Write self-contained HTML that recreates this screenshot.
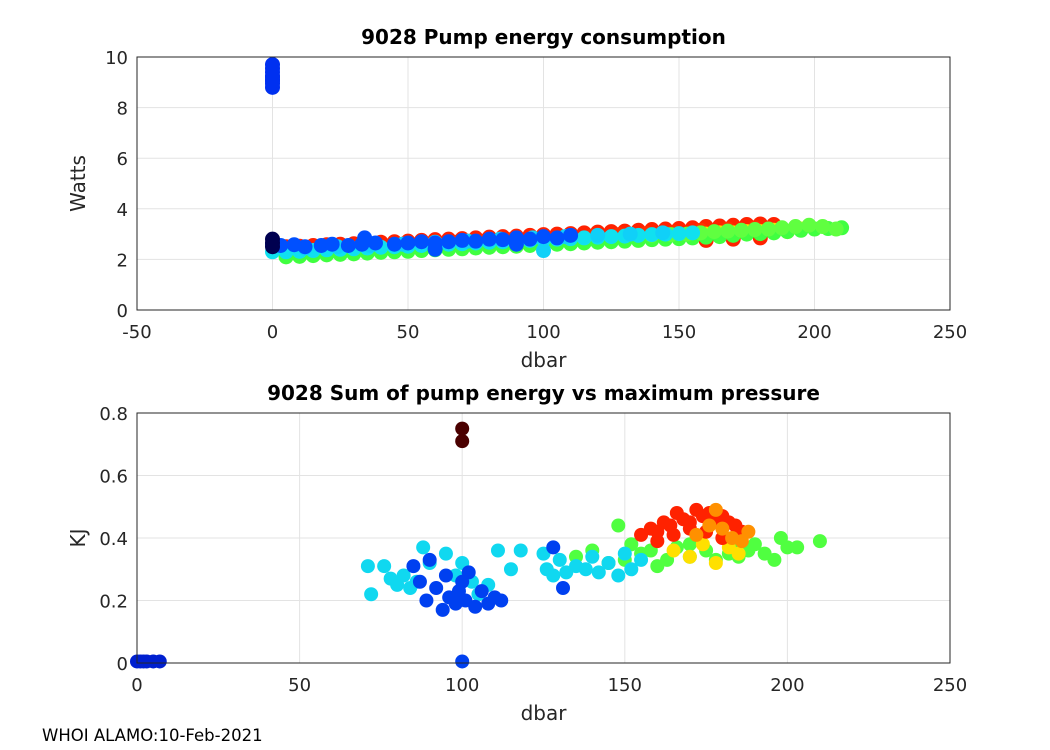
<!DOCTYPE html>
<html><head><meta charset="utf-8">
<style>
body{margin:0;background:#fff;}
svg{display:block;font-family:"DejaVu Sans","Liberation Sans",sans-serif;}
</style></head>
<body>
<svg id="chart" width="1050" height="750">
<rect width="1050" height="750" fill="#fff"/>
<g id="top"></g>
<g id="bot"></g>
<text x="42" y="741" font-size="16.5" fill="#000">WHOI ALAMO:10-Feb-2021</text>
</svg>
<script>
// ---------- Top plot data ----------
const topXTicks = [-50,0,50,100,150,200,250];
const topYTicks = [0,2,4,6,8,10];
const redX = [5,10,15,20,25,30,35,40,45,50,55,60,65,70,75,80,85,90,95,100,105,110,115,120,125,130,135,140,145,150,155,160,165,170,175,180,185,160,170,180];
const redY = [2.5,2.52,2.55,2.58,2.6,2.62,2.65,2.68,2.7,2.72,2.75,2.78,2.8,2.82,2.85,2.88,2.9,2.92,2.95,2.98,3.0,3.02,3.05,3.08,3.1,3.12,3.15,3.18,3.2,3.22,3.25,3.3,3.32,3.35,3.38,3.4,3.38,2.75,2.8,2.85];
const red2X = [8,18,28,38,48,58,68,78,88,98,108,118,128,138,148,158,168,178,183];
const red2Y = [2.4,2.45,2.5,2.55,2.6,2.62,2.68,2.72,2.78,2.82,2.88,2.92,2.98,3.02,3.08,3.15,3.2,3.25,3.2];
const yellowX = [120,125,130,135,140,145,150,155,160,165,170,175,180,185,190,195];
const yellowY = [2.85,2.88,2.9,2.92,2.95,2.98,2.9,2.95,3.0,3.05,3.05,3.1,3.1,3.15,3.1,3.2];
const greenX = [5,10,15,20,25,30,35,40,45,50,55,60,65,70,75,80,85,90,95,100,105,110,115,120,125,130,135,140,145,150,155,160,165,170,175,180,185,190,195,200,205,210];
const greenY = [2.1,2.12,2.15,2.18,2.2,2.22,2.25,2.28,2.3,2.32,2.35,2.38,2.4,2.42,2.45,2.48,2.5,2.52,2.55,2.58,2.6,2.62,2.65,2.68,2.7,2.72,2.75,2.78,2.8,2.82,2.85,2.88,2.9,2.95,3.0,3.02,3.05,3.1,3.15,3.2,3.22,3.25];
const green2X = [140,147,153,158,163,168,173,178,183,188,193,198,203,208];
const green2Y = [2.95,2.98,3.0,3.05,3.1,3.12,3.15,3.18,3.2,3.25,3.3,3.35,3.3,3.2];
const cyanX = [0,5,10,15,20,25,30,35,40,45,50,55,60,65,70,75,80,85,90,95,100,105,110,115,120,125,130,135,140,145,150,155];
const cyanY = [2.3,2.3,2.32,2.35,2.38,2.4,2.42,2.45,2.48,2.5,2.52,2.55,2.58,2.6,2.62,2.65,2.68,2.7,2.72,2.75,2.78,2.8,2.82,2.85,2.88,2.9,2.92,2.95,2.98,3.0,3.02,3.05];
const cyan2X = [12,24,36,48,60,72,84,96,100,108,120,132,144];
const cyan2Y = [2.45,2.5,2.55,2.6,2.68,2.72,2.8,2.85,2.35,2.9,2.95,3.0,3.05];
const blueX = [0,3,8,12,18,22,28,33,38,45,50,55,60,65,70,75,80,85,90,95,100,105,110,34,60,90];
const blueY = [2.6,2.55,2.58,2.5,2.55,2.6,2.55,2.6,2.65,2.6,2.65,2.7,2.65,2.7,2.75,2.72,2.8,2.78,2.85,2.8,2.9,2.85,2.95,2.85,2.4,2.6];
const hiX = [0,0,0,0,0,0,0,0,0];
const hiY = [8.8,8.95,9.1,9.25,9.4,9.55,9.7,9.05,9.2];
const navyX = [0,0,0];
const navyY = [2.5,2.65,2.8];

// ---------- Bottom plot data ----------
const botXTicks = [0,50,100,150,200,250];
const botYTicks = [0,0.2,0.4,0.6,0.8];
const bRedX = [155,158,160,162,164,166,168,170,172,174,176,178,180,182,184,186,160,165,170,175,180];
const bRedY = [0.41,0.43,0.42,0.45,0.44,0.48,0.46,0.45,0.49,0.47,0.48,0.46,0.47,0.45,0.44,0.42,0.39,0.41,0.43,0.42,0.40];
const bOrangeX = [172,176,178,180,183,186,188];
const bOrangeY = [0.41,0.44,0.49,0.43,0.40,0.39,0.42];
const bYellowX = [165,170,174,178,182,185];
const bYellowY = [0.36,0.34,0.38,0.32,0.37,0.35];
const bGreenX = [135,140,145,150,152,155,158,160,163,166,170,175,178,182,185,188,190,193,196,198,200,203,210,148,170,185];
const bGreenY = [0.34,0.36,0.32,0.33,0.38,0.35,0.36,0.31,0.33,0.37,0.34,0.36,0.33,0.35,0.34,0.36,0.38,0.35,0.33,0.40,0.37,0.37,0.39,0.44,0.38,0.39];
const bCyanX = [71,72,76,78,80,82,84,86,88,90,95,98,100,103,105,108,111,115,118,125,126,128,130,132,135,138,140,142,145,148,150,152,155];
const bCyanY = [0.31,0.22,0.31,0.27,0.25,0.28,0.24,0.26,0.37,0.32,0.35,0.28,0.32,0.26,0.22,0.25,0.36,0.30,0.36,0.35,0.30,0.28,0.33,0.29,0.31,0.30,0.34,0.29,0.32,0.28,0.35,0.30,0.33];
const bBlueX = [85,87,89,90,92,94,95,96,98,99,100,101,102,104,106,108,110,112,128,131,100];
const bBlueY = [0.31,0.26,0.20,0.33,0.24,0.17,0.28,0.21,0.19,0.23,0.26,0.20,0.29,0.18,0.23,0.19,0.21,0.20,0.37,0.24,0.005];
const bNavyX = [0,1,2,3,5,7];
const bNavyY = [0.005,0.005,0.005,0.005,0.005,0.005];
const bMaroonX = [100,100];
const bMaroonY = [0.75,0.71];

const NS = "http://www.w3.org/2000/svg";
function mk(parent, tag, attrs){const e=document.createElementNS(NS,tag);for(const k in attrs)e.setAttribute(k,attrs[k]);parent.appendChild(e);return e;}

function drawAxes(g, L, R, T, B, xmin, xmax, ymin, ymax, xt, yt, yfmt, title, xl, yl, name){
  const sx=v=>L+(v-xmin)/(xmax-xmin)*(R-L);
  const sy=v=>B-(v-ymin)/(ymax-ymin)*(B-T);
  mk(g,'rect',{x:L,y:T,width:R-L,height:B-T,fill:'#fff'});
  xt.forEach(v=>{
    const l=mk(g,'line',{x1:sx(v),x2:sx(v),y1:T,y2:B,stroke:'#e3e3e3','stroke-width':1});
    
    
    const t=mk(g,'text',{x:sx(v),y:B+28,'font-size':18,'text-anchor':'middle',fill:'#262626'});
    t.textContent=v;
    
    
  });
  yt.forEach(v=>{
    const l=mk(g,'line',{x1:L,x2:R,y1:sy(v),y2:sy(v),stroke:'#e3e3e3','stroke-width':1});
    
    
    const t=mk(g,'text',{x:L-9,y:sy(v)+7,'font-size':18,'text-anchor':'end',fill:'#262626'});
    t.textContent=yfmt(v);
    
    
  });
  const tt=mk(g,'text',{x:(L+R)/2,y:T-13,'font-size':20,'font-weight':'bold','text-anchor':'middle',fill:'#000'});
  tt.textContent=title;
  
  
  const xa=mk(g,'text',{x:(L+R)/2,y:B+57,'font-size':20,'text-anchor':'middle',fill:'#262626'});
  xa.textContent=xl;
  
  
  const ya=mk(g,'text',{x:0,y:0,'font-size':20,'text-anchor':'middle',fill:'#262626',transform:`translate(${L-52},${(T+B)/2}) rotate(-90)`});
  ya.textContent=yl;
  
  
  return {sx,sy};
}
function frame(g,L,R,T,B){
  const f=mk(g,'rect',{x:L,y:T,width:R-L,height:B-T,fill:'none',stroke:'#262626','stroke-width':1});
  
  
}
function scatter(g,ax,xs,ys,color,r,name){
  xs.forEach((x,i)=>{
    const c=mk(g,'circle',{cx:ax.sx(x),cy:ax.sy(ys[i]),r:r,fill:color});
    
    
  });
}

const gt=document.getElementById('top');
const at=drawAxes(gt,137,950,57,310,-50,250,0,10,topXTicks,topYTicks,v=>v,'9028 Pump energy consumption','dbar','Watts','top');
scatter(gt,at,redX,redY,'#ff2200',7.5,'point-red');
scatter(gt,at,red2X,red2Y,'#ff3000',7.5,'point-red');
scatter(gt,at,yellowX,yellowY,'#ffe000',7.5,'point-yellow');
scatter(gt,at,greenX,greenY,'#40ff40',7.5,'point-green');
scatter(gt,at,green2X,green2Y,'#60ff40',7.5,'point-green');
scatter(gt,at,cyanX,cyanY,'#10e0f0',7.5,'point-cyan');
scatter(gt,at,cyan2X,cyan2Y,'#10d0f8',7.5,'point-cyan');
scatter(gt,at,blueX,blueY,'#0050ff',7.5,'point-blue');
scatter(gt,at,hiX,hiY,'#0030f0',7.5,'point-blue-high');
scatter(gt,at,navyX,navyY,'#000050',7.5,'point-navy');
frame(gt,137,950,57,310);

const gb=document.getElementById('bot');
const ab=drawAxes(gb,137,950,413,663,0,250,0,0.8,botXTicks,botYTicks,v=>v===0?'0':v.toFixed(1),'9028 Sum of pump energy vs maximum pressure','dbar','KJ','bottom');
scatter(gb,ab,bGreenX,bGreenY,'#50ff40',7,'point-green');
scatter(gb,ab,bYellowX,bYellowY,'#ffe000',7,'point-yellow');
scatter(gb,ab,bRedX,bRedY,'#ff2200',7,'point-red');
scatter(gb,ab,bOrangeX,bOrangeY,'#ff9000',7,'point-orange');
scatter(gb,ab,bCyanX,bCyanY,'#10d8f0',7,'point-cyan');
scatter(gb,ab,bBlueX,bBlueY,'#0040f0',7,'point-blue');
scatter(gb,ab,bNavyX,bNavyY,'#0020d0',7,'point-zero');
scatter(gb,ab,bMaroonX,bMaroonY,'#4a0000',7,'point-maroon');
frame(gb,137,950,413,663);
</script>
</body></html>
